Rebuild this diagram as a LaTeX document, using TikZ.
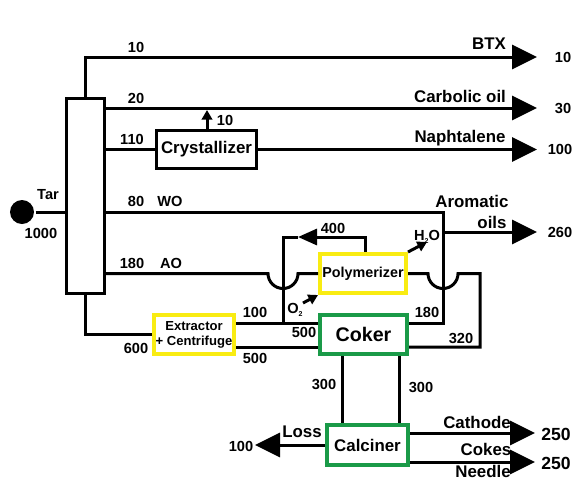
\documentclass[tikz,border=0pt]{standalone}
\usepackage{fontspec}
\setmainfont{Liberation Sans}
\usepackage{tikz}
\usetikzlibrary{calc,arrows.meta}
\definecolor{polyyellow}{HTML}{F9EC12}
\definecolor{cokegreen}{HTML}{1A9A48}
\newcommand{\tinysub}[1]{\raisebox{-0.45ex}{\fontsize{5}{5}\selectfont #1}}

\begin{document}
\begin{tikzpicture}[x=0.25mm,y=-0.25mm,line width=0.75mm,
  num/.style={inner sep=0pt,font=\fontsize{10.4}{12}\selectfont\bfseries},
  lbl/.style={inner sep=0pt,font=\fontsize{12}{14}\selectfont\bfseries},
  unit/.style={draw,fill=white,line width=0.75mm,inner sep=0pt,font=\fontsize{12}{14}\selectfont\bfseries},
  ybox/.style={unit,draw=polyyellow,line width=1mm},
  gbox/.style={unit,draw=cokegreen,line width=1mm},
  big/.style={-{Triangle[length=6.25mm,width=6mm]}},
  small/.style={-{Triangle[length=2.4mm,width=2.6mm]}}]
\useasboundingbox (0,0) rectangle (574,481);
% units
\node[circle,fill=black,minimum size=6mm,inner sep=0pt] (tar) at (22,212) {};
\node[unit,minimum width=9.5mm,minimum height=48.75mm] (col) at (85.5,196) {};
\node[unit,minimum width=25mm,minimum height=9.5mm] (cryst) at (206.5,149.5) {Crystallizer};
\node[ybox,minimum width=20mm,minimum height=9.75mm,align=center,font=\fontsize{9.3}{10.5}\selectfont\bfseries] (extr) at (194,334.5) {Extractor\\+ Centrifuge};
\node[ybox,minimum width=21.5mm,minimum height=9.75mm,font=\fontsize{10.2}{12}\selectfont\bfseries] (poly) at (363,273.5) {Polymerizer};
\node[gbox,minimum width=21.75mm,minimum height=9.75mm,font=\fontsize{14}{16}\selectfont\bfseries] (coker) at (363.5,334.5) {Coker};
\node[gbox,minimum width=20.25mm,minimum height=10mm] (calc) at (367.5,445) {Calciner};
% ends and levels
\coordinate (btx) at (537,57);
\coordinate (carb) at (537,108);
\coordinate (naph) at (537,149.5);
\coordinate (wo) at (443,212);
\coordinate (arom) at (537,232);
\coordinate (ret) at (283,237);
\coordinate (loopR) at (480,273.5);
\coordinate (yA) at (0,323);
\coordinate (yB) at (0,347);
\coordinate (loss) at (255,445);
\coordinate (cath) at (535,433);
\coordinate (needle) at (535,462);
% streams
\draw (tar) -- (tar -| col.west);
\draw[big] (col.north) |- (btx);
\draw[big] (col.east |- carb) -- (carb);
\draw (col.east |- cryst) -- (cryst.west);
\draw[big] (cryst.east) -- (naph);
\draw[small] ($(cryst.north)+(0.5,0)$) -- ($(cryst.north |- carb)+(0.5,2)$);
\draw (col.east |- wo) -- (wo) -- (wo |- yA) -- (coker.east |- yA);
\draw[big] (wo |- arom) -- (arom);
\draw (col.east |- poly) -- (268,273.5) arc[start angle=180,end angle=0,radius=15] -- (poly.west);
\draw (poly.east) -- (428,273.5) arc[start angle=180,end angle=0,radius=15] -- (loopR) |- (coker.east |- yB);
\draw[-{Triangle[length=4.75mm,width=4mm]}] ($(poly.north)+(2,0)$) |- (298,237);
\draw (298,237) -- (ret) -- (ret |- yA);
\draw (col.south) |- (extr.west);
\draw (extr.east |- yA) -- (coker.west |- yA);
\draw (extr.east |- yB) -- (coker.west |- yB);
\draw[small] (303,303) -- (poly.south west);
\draw[small] (poly.north east) -- (427,242);
\draw (coker.south -| 342,0) -- (calc.north -| 342,0);
\draw (coker.south -| 399,0) -- (calc.north -| 399,0);
\draw[big] (calc.west) -- (loss);
\draw[big] (calc.east |- cath) -- (cath);
\draw[big] (calc.east |- needle) -- (needle);
% flows and names
\foreach \nm/\x/\y/\t in {n10a/136/47/10,n10b/563/57/10,n20/136/98/20,n30/563/108/30,n10c/225/120/10,
  n110/132/139/110,n100a/560/149/100,lTar/48/195/Tar,n1000/41/233/1000,n80/136/201/80,lWO/170/201/WO,
  n180a/132/263/180,lAO/171/263/AO,n600/136/348/600,n100b/255/312/100,n500a/304/332/500,n500b/255/358/500,
  n400/333/228/400,n180b/427/312/180,n320/461/338/320,n260/560/232/260,n300a/324/384/300,n300b/421/387/300,
  n100c/241/446/100}{\node[num] (\nm) at (\x,\y) {\t};}
\foreach \nm/\x/\y/\t in {lBTX/489/44/BTX,lCarb/460/96/Carbolic oil,lNaph/460/138/Naphtalene,
  lArom/472/201/Aromatic,lOils/492/222/oils,lLoss/302/432/Loss,lCath/477/422/Cathode,
  lCokes/486/449/Cokes,lNeedle/483/471/Needle}{\node[lbl] (\nm) at (\x,\y) {\t};}
\node[num] (lO2) at (295,310) {O\tinysub{2}};
\node[num] (lH2O) at (427,237) {H\tinysub{2}O};
\node[num,font=\fontsize{12.5}{14}\selectfont\bfseries] (n250a) at (556,434) {250};
\node[num,font=\fontsize{12.5}{14}\selectfont\bfseries] (n250b) at (556,463) {250};
\end{tikzpicture}
\end{document}
